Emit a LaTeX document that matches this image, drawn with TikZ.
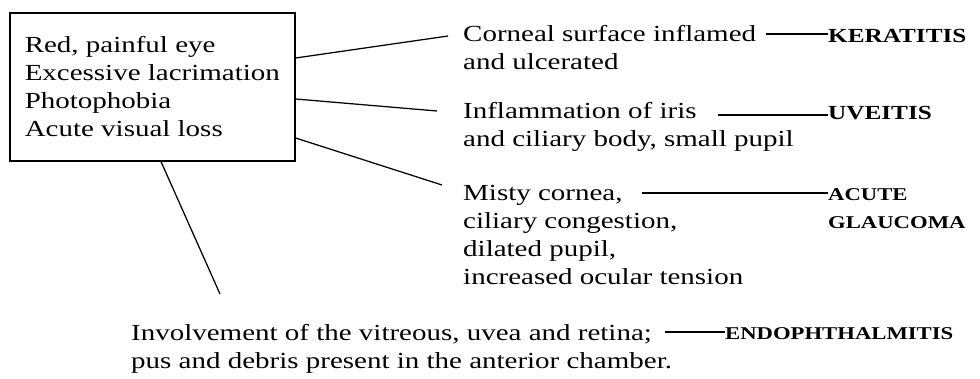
\documentclass[tikz,border=0pt]{standalone}
\usepackage{fontspec}
\setmainfont{Liberation Serif}[FakeStretch=1.26]
\usepackage{tikz}

\begin{document}
\begin{tikzpicture}[x=1pt,y=-1pt,
  every node/.style={inner sep=0pt,align=left,font=\fontsize{23}{28}\selectfont},
  dx/.style={font=\fontsize{20}{28}\selectfont\bfseries},
  dxs/.style={font=\fontsize{18}{28}\selectfont\bfseries},
  link/.style={line width=1.25pt}]
\useasboundingbox (0,0) rectangle (980,379);
\node[draw,line width=1.6pt,minimum width=285pt,minimum height=148pt,anchor=north west] (signs) at (9,12) {Red, painful eye\\Excessive lacrimation\\Photophobia\\Acute visual loss};
\node[anchor=base west] (cornea) at (463,70) {Corneal surface inflamed\\and ulcerated};
\node[anchor=base west] (iris) at (463,147) {Inflammation of iris\\and ciliary body, small pupil};
\node[anchor=base west] (misty) at (463,285) {Misty cornea,\\ciliary congestion,\\dilated pupil,\\increased ocular tension};
\node[anchor=base west] (vitre) at (131,368) {Involvement of the vitreous, uvea and retina;\\pus and debris present in the anterior chamber.};
\node[dx,anchor=base west] (kera) at (828,43) {KERATITIS};
\node[dx,anchor=base west] (uvei) at (828,120) {UVEITIS};
\node[dxs,anchor=base west] (glau) at (828,229) {ACUTE\\GLAUCOMA};
\node[dxs,anchor=base west] (endo) at (725,340) {ENDOPHTHALMITIS};
\coordinate (corneaend) at (448,36);
\coordinate (irisend) at (437,111);
\coordinate (mistyend) at (442,185);
\coordinate (vitreend) at (220,294);
\coordinate (keradash) at (766,34);
\coordinate (uveidash) at (718,115);
\coordinate (glaudash) at (642,193);
\coordinate (endodash) at (665,332);
\draw[link] ([yshift=-46pt]signs.north east) -- (corneaend);
\draw[link] ([yshift=-87pt]signs.north east) -- (irisend);
\draw[link] ([yshift=-126pt]signs.north east) -- (mistyend);
\draw[link] ([xshift=152pt]signs.south west) -- (vitreend);
\draw[link] (keradash) -- (keradash -| kera.west);
\draw[link] (uveidash) -- (uveidash -| uvei.west);
\draw[link] (glaudash) -- (glaudash -| glau.west);
\draw[link] (endodash) -- (endodash -| endo.west);
\end{tikzpicture}
\end{document}
